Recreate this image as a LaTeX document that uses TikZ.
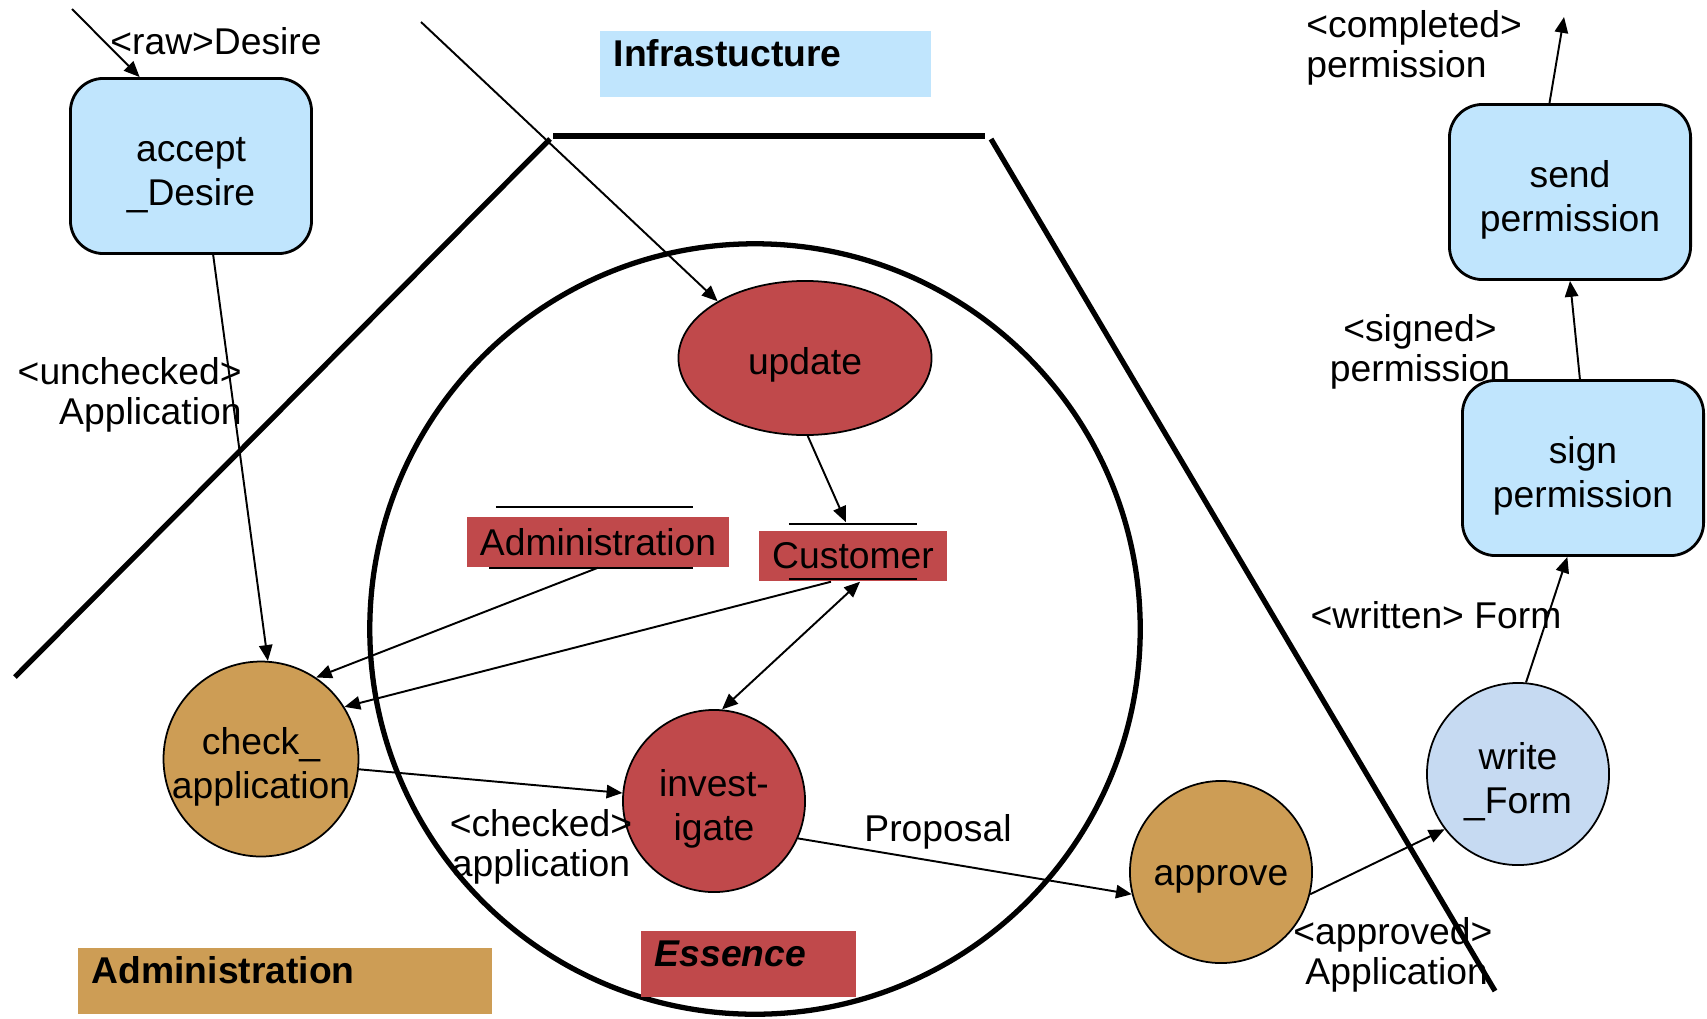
\documentclass[tikz,border=0pt]{standalone}
\usepackage{fontspec}
\setmainfont{Liberation Sans}
\usepackage{xcolor}
\usetikzlibrary{arrows.meta, shapes.geometric, positioning}

\definecolor{skyblue}{HTML}{C0E5FD}
\definecolor{brick}{HTML}{C0494B}
\definecolor{ochre}{HTML}{CD9D55}
\definecolor{paleblue}{HTML}{C6DAF2}

\begin{document}
\begin{tikzpicture}[x=0.01cm, y=-0.01cm, >={Triangle[length=4.5pt, width=3.8pt]},
  every node/.style={font=\fontsize{10.6}{12.7}\selectfont},
  lowtext/.style={text depth=0pt, execute at begin node={\rule{0pt}{#1}}},
  task/.style={rectangle, rounded corners=0.33cm, draw, line width=0.8pt, fill=skyblue, minimum width=2.41cm, minimum height=1.75cm, align=center, lowtext=22.6pt},
  proc/.style={circle, draw, line width=0.5pt, minimum size=1.82cm, inner sep=0pt, align=center},
  entity/.style={rectangle, fill=brick, inner sep=0pt, minimum height=0.5cm},
  tag/.style={anchor=north west, inner xsep=0.14cm, inner ysep=0.08cm, text height=0.28cm, text depth=0.22cm, align=left, font=\fontsize{10.6}{12.7}\selectfont\bfseries},
  flow/.style={->, line width=0.55pt},
  flowlabel/.style={font=\fontsize{10.6}{11.4}\selectfont, align=center},
  boundary/.style={line width=1.5pt}]

  \useasboundingbox (0,0) rectangle (1707,1018);

  % layer boundaries
  \draw[boundary] (15,677) -- (550,139);
  \draw[boundary] (553,136) -- (985,136);
  \draw[boundary] (991,139) -- (1495,991);
  \draw[boundary] (755,629) circle[radius=3.85cm];

  % layer tags
  \node[tag, fill=skyblue, text width=3.03cm] (infra) at (599,30) {Infrastucture};
  \node[tag, fill=ochre, text width=3.86cm] (admtag) at (77,947) {Administration};
  \node[tag, fill=brick, text width=1.87cm, font=\fontsize{10.6}{12.7}\selectfont\bfseries\itshape] (esstag) at (640,930) {Essence};

  % processes
  \node[task] (acc) at (191,166) {accept\\\_Desire};
  \node[task] (snd) at (1570,192) {send\\permission};
  \node[task] (sgn) at (1583,468) {sign\\permission};
  \node[ellipse, draw, line width=0.5pt, fill=brick, minimum width=2.53cm, minimum height=1.54cm, lowtext=0.88em] (upd) at (805,358) {update};
  \node[proc, fill=ochre, lowtext=22.6pt] (chk) at (261,759) {check\_\\application};
  \node[proc, fill=brick, lowtext=22.6pt] (inv) at (714,801) {invest-\\igate};
  \node[proc, fill=ochre, lowtext=0.72em] (apr) at (1221,872) {approve};
  \node[proc, fill=paleblue, lowtext=22.6pt] (wf) at (1518,774) {write\\\_Form};

  % stores
  \node[entity, minimum width=2.62cm] (adm) at (598,542) {Administration};
  \node[entity, minimum width=1.88cm] (cus) at (853,556) {Customer};
  \draw[line width=0.7pt] ([xshift=-1.02cm, yshift=0.35cm]adm.center) -- ++(197,0);
  \draw[line width=0.7pt] ([xshift=-1.09cm, yshift=-0.26cm]adm.center) -- ++(204,0);
  \draw[line width=0.7pt] ([xshift=-0.64cm, yshift=0.32cm]cus.center) -- ++(128,0);
  \draw[line width=0.7pt] ([xshift=-0.64cm, yshift=-0.23cm]cus.center) -- ++(128,0);

  \coordinate (in1) at (72,9);
  \coordinate (in2) at (421,22);
  \coordinate (out) at (1564,17);

  % flows
  \draw[flow] (in1) -- (acc.120);
  \draw[flow] (acc.-76) -- (chk.86);
  \draw[flow] (in2) -- (upd.147);
  \draw[flow] (upd.-88) -- ([xshift=-0.07cm, yshift=0.08cm]cus.north);
  \draw[flow] (adm.south) -- (chk.56);
  \draw[flow] ([xshift=-0.22cm]cus.south) -- (chk.32);
  \draw[<->, line width=0.55pt] ([xshift=0.07cm]cus.south) -- (inv.85);
  \draw[flow] (chk.-6) -- (inv.175);
  \draw[flow] (inv.-24) -- (apr.-166);
  \draw[flow] (apr.-14) -- (wf.-143);
  \draw[flow] (wf.85) -- (sgn.-100);
  \draw[flow] (sgn.92) -- (snd.south);
  \draw[flow] (snd.103) -- (out);

  % flow labels
  \node[flowlabel] at (216,41) {<raw>Desire};
  \node[flowlabel, align=right, anchor=east] at (254,395) {<unchecked>\\Application};
  \node[flowlabel] at (541,847) {<checked>\\application};
  \node[flowlabel] at (938,832) {Proposal};
  \node[flowlabel, align=left, anchor=west] at (1281,955) {<approved>\\\hspace{0.12cm}Application};
  \node[flowlabel] at (1436,615) {<written> Form};
  \node[flowlabel] at (1420,352) {<signed>\\permission};
  \node[flowlabel, align=left, anchor=west] at (1294,48) {<completed>\\permission};

\end{tikzpicture}
\end{document}
